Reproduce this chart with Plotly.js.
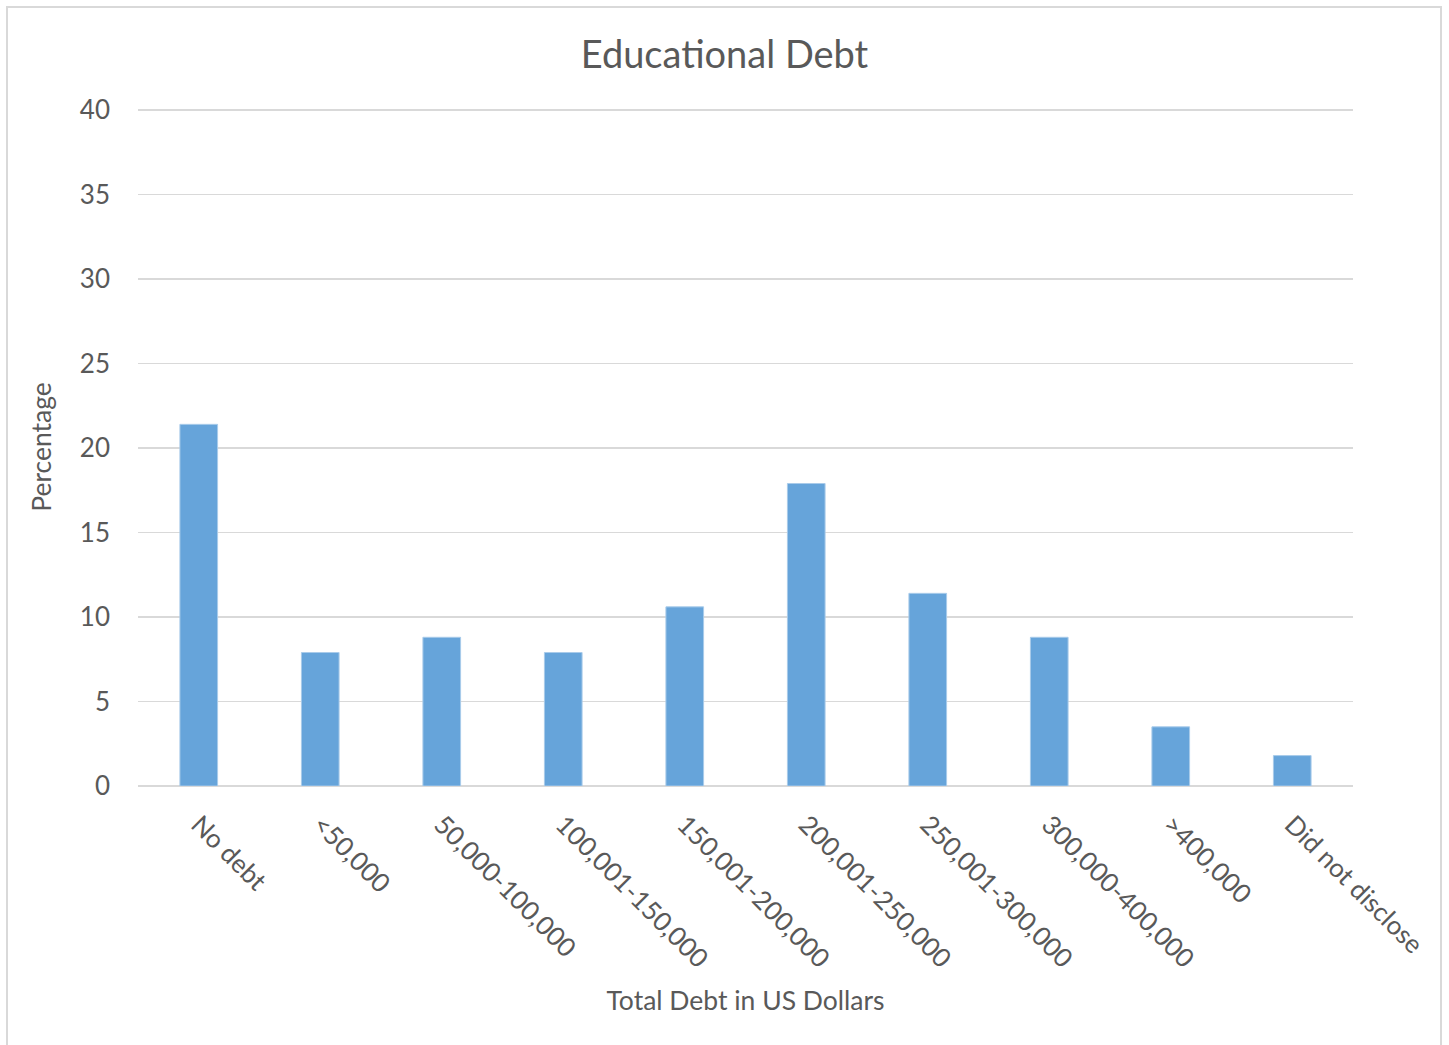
<!DOCTYPE html>
<html>
<head>
<meta charset="utf-8">
<script src="https://cdn.plot.ly/plotly-3.0.1.min.js"></script>
<style>
  html, body { margin: 0; padding: 0; background: #ffffff; }
  #wrap { position: relative; width: 1449px; height: 1045px; }
  #chart { width: 1449px; height: 1045px; }
  #frame { position: absolute; left: 6px; top: 6px; width: 1436px; height: 1045px;
           border: 2px solid #D9D9D9; pointer-events: none; box-sizing: border-box; }
</style>
</head>
<body>
<div id="wrap">
  <div id="chart"></div>
  <div id="frame"></div>
</div>
<script>
const categories = ["No debt", "<50,000", "50,000-100,000", "100,001-150,000", "150,001-200,000",
                    "200,001-250,000", "250,001-300,000", "300,000-400,000", ">400,000", "Did not disclose"];
const percentages = [21.4, 7.9, 8.8, 7.9, 10.6, 17.9, 11.4, 8.8, 3.5, 1.8];
const yTicks = [0, 5, 10, 15, 20, 25, 30, 35, 40];

const textColor = "#595959";
const fontFamily = "Lato, 'Open Sans', sans-serif";

const trace = {
  type: "bar",
  x: categories,
  y: percentages,
  width: 0.31,
  marker: { color: "#66A4DA", line: { color: "#A9CBEA", width: 1 } },
  hoverinfo: "x+y"
};

const layout = {
  width: 1449,
  height: 1045,
  margin: { l: 138, r: 96, t: 108, b: 259 },
  paper_bgcolor: "#ffffff",
  plot_bgcolor: "#ffffff",
  showlegend: false,
  font: { family: fontFamily, color: textColor },
  title: {
    text: "Educational Debt",
    font: { family: fontFamily, size: 38, color: textColor },
    x: 0.5, xref: "container", xanchor: "center",
    y: 1 - 55 / 1045, yref: "container", yanchor: "middle"
  },
  xaxis: {
    type: "category",
    tickangle: 45,
    tickfont: { family: fontFamily, size: 26, color: textColor },
    showgrid: false,
    showline: false,
    ticks: "outside",
    ticklen: 12,
    tickcolor: "rgba(0,0,0,0)",
    automargin: false,
    title: {
      text: "Total Debt in US Dollars",
      font: { family: fontFamily, size: 26.5, color: textColor },
      standoff: 18
    }
  },
  yaxis: {
    range: [0, 40.12],
    tickvals: yTicks,
    ticktext: yTicks.map(String),
    tickfont: { family: fontFamily, size: 26, color: textColor },
    showgrid: true,
    gridcolor: "#D9D9D9",
    gridwidth: 1.4,
    zeroline: true,
    zerolinecolor: "#D9D9D9",
    zerolinewidth: 1.6,
    showline: false,
    ticks: "",
    ticklabelstandoff: 27,
    automargin: false,
    title: {
      text: "Percentage",
      font: { family: fontFamily, size: 26.5, color: textColor },
      standoff: 20
    }
  }
};

Plotly.newPlot("chart", [trace], layout, { displayModeBar: false, staticPlot: true });
</script>
</body>
</html>
